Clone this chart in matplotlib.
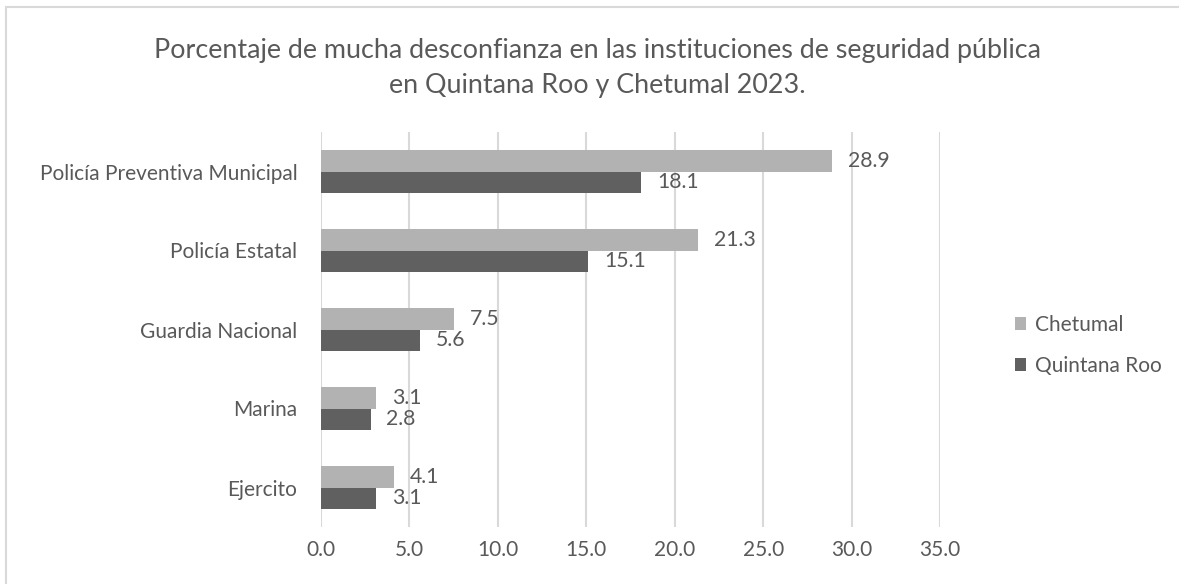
import numpy as np
import matplotlib
matplotlib.use('Agg')
import matplotlib.pyplot as plt
from matplotlib.patches import Rectangle

categories = ['Policía Preventiva Municipal', 'Policía Estatal', 'Guardia Nacional', 'Marina', 'Ejercito']
chetumal = [28.9, 21.3, 7.5, 3.1, 4.1]
quintana_roo = [18.1, 15.1, 5.6, 2.8, 3.1]
xticks = [0, 5, 10, 15, 20, 25, 30, 35]
title = ('Porcentaje de mucha desconfianza en las instituciones de seguridad pública\n'
         'en Quintana Roo y Chetumal 2023.')

text_color = '#595959'
plt.rcParams['font.family'] = ['Lato', 'DejaVu Sans']

W, H = 1179, 584
fig = plt.figure(figsize=(W / 100, H / 100), dpi=100)
renderer = fig.canvas.get_renderer()


def fit_size(s, target_px, size=14):
    # pick the font size that gives the wanted pixel width
    t = fig.text(0, 0, s, fontsize=size)
    w = t.get_window_extent(renderer).width
    t.remove()
    return size * target_px / w


title_size = fit_size(title.split('\n')[0], 894)
label_size = fit_size('Quintana Roo', 127)
num_size = fit_size('28.9', 42)
tick_size = fit_size('10.0', 41.5)

ax = fig.add_axes([321 / W, 1 - 527 / H, (940 - 321) / W, (527 - 132) / H])

y = np.arange(len(categories))
h = 0.266
b1 = ax.barh(y - h / 2, chetumal, height=h, color='#b2b2b2', label='Chetumal')
b2 = ax.barh(y + h / 2, quintana_roo, height=h, color='#606060', label='Quintana Roo')
ax.bar_label(b1, labels=[f'{v:.1f}' for v in chetumal], padding=11.5, fontsize=num_size, color=text_color)
ax.bar_label(b2, labels=[f'{v:.1f}' for v in quintana_roo], padding=11.5, fontsize=num_size, color=text_color)

ax.set_ylim(len(categories) - 0.5, -0.5)
ax.set_xlim(0, 35)
ax.set_xticks(xticks)
ax.set_xticklabels([f'{t:.1f}' for t in xticks], fontsize=tick_size, color=text_color)
ax.set_yticks(y)
ax.set_yticklabels(categories, fontsize=label_size, color=text_color)
ax.tick_params(length=0)
ax.tick_params(axis='x', pad=9)
ax.tick_params(axis='y', pad=17)
ax.grid(axis='x', color='#d9d9d9', linewidth=1.5)
ax.set_axisbelow(True)
for s in ax.spines.values():
    s.set_visible(False)

fig.legend(handles=[b1, b2], loc='center left', bbox_to_anchor=(1015 / W, 1 - 345.5 / H),
           frameon=False, fontsize=label_size, labelcolor=text_color, borderpad=0, borderaxespad=0,
           handlelength=0.55, handleheight=0.55, handletextpad=0.4, labelspacing=1.0)

fig.text(597 / W, 1 - 68 / H, title, ha='center', va='center', fontsize=title_size,
         color=text_color, linespacing=1.5)

# outer chart border
fig.patches.append(Rectangle((5.5 / W, -0.05), 1.1, 1.05 - 6.5 / H, transform=fig.transFigure,
                             fill=False, edgecolor='#d9d9d9', linewidth=1.5))

fig.savefig('out.png', dpi=100)
